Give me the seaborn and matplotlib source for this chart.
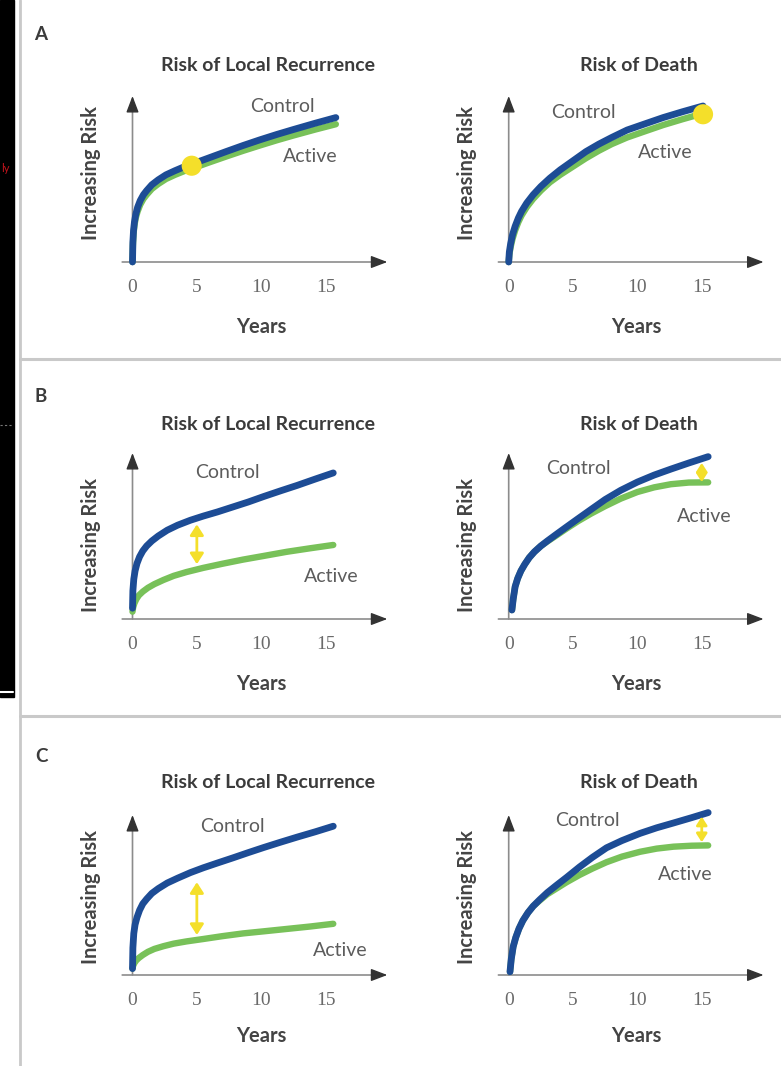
import matplotlib
matplotlib.use("Agg")
import matplotlib.pyplot as plt
import seaborn as sns
from matplotlib.patches import Rectangle
from matplotlib.lines import Line2D

sns.set_theme(style="white")
plt.rcParams["font.family"] = ["Lato", "DejaVu Sans"]

# ---------------- data (years vs. relative risk, 0-100 scale) ----------------
tick_years = [0, 5, 10, 15]
tick_labels = ["0", "5", "10", "15"]

# A: same local recurrence, same death
a_loc_years = [0, 0.03, 0.08, 0.15, 0.25, 0.4, 0.6, 0.85, 1.1, 1.5, 2.0, 2.6,
               3.3, 4.0, 4.8, 6.0, 7.3, 8.6, 9.9, 11.2, 12.5, 14.2, 15.8]
a_loc_control = [0, 12, 19, 24, 28.5, 33, 37, 40.5, 43, 46.5, 49.5, 52.5,
                 55, 57.3, 59.5, 62.9, 66.6, 70.2, 73.6, 76.8, 79.8, 83.6, 87]
a_loc_active = [0, 10, 17, 22, 26.5, 30.5, 34.5, 38, 40.5, 44, 47, 50,
                52.5, 54.7, 56.8, 60.1, 63.6, 67, 70.2, 73.3, 76.2, 79.8, 83]

a_death_years = [0, 0.05, 0.15, 0.3, 0.5, 0.75, 1.0, 1.4, 1.9, 2.5, 3.2, 4.0,
                 5.0, 6.0, 7.0, 8.0, 9.2, 10.5, 12.0, 13.5, 15.1]
a_death_control = [0, 6, 11, 16.5, 21.5, 26.5, 30.5, 35.5, 40.5, 45.5, 50.5, 55.5,
                   61, 66.5, 71, 75, 79.5, 83, 87, 90.5, 94]
a_death_active = [0, 4.5, 9, 14, 19, 24, 28, 33, 38, 43, 48, 52.5,
                  57.5, 62.5, 67, 71, 75, 78.5, 82.5, 86, 89.5]

a_loc_dot = (4.6, 58)
a_death_dot = (15.1, 89)

# B: local benefit, small survival benefit
b_loc_ctrl_years = [0, 0.03, 0.1, 0.2, 0.35, 0.55, 0.8, 1.1, 1.5, 2.0, 2.7, 3.5,
                    4.5, 5.5, 6.6, 7.8, 9.0, 10.2, 11.5, 12.8, 14.2, 15.6]
b_loc_control = [6.5, 17, 24, 29, 33.5, 37.5, 41, 44, 47, 50, 53.5, 56.5,
                 59.5, 62, 64.5, 67.5, 70.5, 73.8, 77.2, 80.5, 84.3, 88]
b_loc_act_years = [0, 0.05, 0.15, 0.3, 0.5, 0.8, 1.2, 1.7, 2.4, 3.2, 4.2, 5.5,
                   7.0, 8.6, 10.2, 12.0, 13.8, 15.6]
b_loc_active = [4.4, 7, 9.5, 12, 14.3, 16.5, 18.8, 21, 23.5, 26, 28.3, 30.8,
                33.3, 35.8, 38, 40.5, 42.6, 44.6]

b_death_years = [0.25, 0.35, 0.5, 0.7, 0.95, 1.25, 1.6, 2.0, 2.5, 3.0, 3.7, 4.5,
                 5.4, 6.4, 7.5, 8.7, 10.0, 11.3, 12.6, 14.0, 15.5]
b_death_control = [5.4, 12, 19.5, 24.5, 29, 33, 37, 40.5, 44, 47, 51, 55.5,
                   60.5, 66, 72, 77.5, 82.5, 86.7, 90.3, 94, 97.8]
b_death_active = [5.4, 12, 19.5, 24.5, 29, 33, 37, 40.5, 44, 46.7, 50.3, 54.5,
                  59, 63.5, 68, 72.5, 76.5, 79.3, 81.2, 82.2, 82.3]

b_loc_gap = (5, 57, 33)
b_death_gap = (15, 94, 82.5)

# C: large local benefit, larger survival benefit
c_loc_ctrl_years = [0, 0.03, 0.1, 0.2, 0.35, 0.55, 0.8, 1.1, 1.5, 2.0, 2.7, 3.5,
                    4.5, 5.5, 6.6, 7.8, 9.0, 10.2, 11.5, 12.8, 14.2, 15.6]
c_loc_control = [4, 17, 26, 31.5, 36, 40.5, 44.5, 47.5, 51, 54, 57.5, 60.5,
                 64, 67, 70, 73.2, 76.5, 79.7, 83, 86.2, 89.5, 93]
c_loc_act_years = [0, 0.05, 0.15, 0.3, 0.5, 0.8, 1.2, 1.7, 2.4, 3.2, 4.2, 5.5,
                   7.0, 8.6, 10.2, 12.0, 13.8, 15.6]
c_loc_active = [4, 5.8, 7.5, 9.2, 10.7, 12.5, 14.5, 16.3, 18, 19.6, 21, 22.5,
                24.3, 26, 27.3, 28.8, 30.3, 32]

c_death_years = [0.1, 0.2, 0.35, 0.55, 0.8, 1.1, 1.5, 1.9, 2.4, 3.0, 3.7, 4.5,
                 5.5, 6.5, 7.6, 8.8, 10.2, 11.5, 12.8, 14.2, 15.5]
c_death_control = [2, 10, 17.7, 23.5, 29, 34, 39, 43, 47, 51.5, 56, 61,
                   67.5, 73.5, 79.5, 84, 88.5, 92, 95, 98.3, 101.5]
c_death_active = [2, 10, 17.7, 23.5, 29, 34, 39, 43, 46.5, 50.5, 54, 58,
                  62.5, 66.5, 70.5, 74, 77, 79, 80.2, 80.8, 81]

c_loc_gap = (5, 58, 25)
c_death_gap = (15, 99, 83)

# ---------------- styling ----------------
BLUE = "#1d4c95"
GREEN = "#78c159"
YELLOW = "#f4df2a"
AXIS_LINE = "#8c8c8c"
AXIS_HEAD = "#333333"
DARK = "#3b3b3b"
MID = "#5c5c5c"

W, H = 781, 1066
fig = plt.figure(figsize=(W / 100, H / 100), dpi=100)
fig.patch.set_facecolor("white")

XMIN, XMAX = -0.8, 19.8
PX_PER_YEAR = 12.87


def ftext(x, y, s, **kw):
    fig.text(x / W, 1 - y / H, s, ha="center", va="center", **kw)


def make_axes(x0_px, top_px, bottom_px):
    left = x0_px + XMIN * PX_PER_YEAR
    right = x0_px + XMAX * PX_PER_YEAR
    ax = fig.add_axes([left / W, 1 - bottom_px / H, (right - left) / W,
                       (bottom_px - top_px) / H])
    ax.set_xlim(XMIN, XMAX)
    ax.set_ylim(0, 100)
    ax.set_facecolor("none")
    for sp in ax.spines.values():
        sp.set_visible(False)
    ax.set_yticks([])
    ax.set_xticks(tick_years)
    ax.set_xticklabels(tick_labels)
    ax.tick_params(axis="x", direction="inout", length=6, width=1,
                   color="#8a8a8a", pad=9, labelsize=14, labelcolor="#6a6a6a")
    for lbl in ax.get_xticklabels():
        lbl.set_fontfamily(["Liberation Serif", "DejaVu Serif"])

    xt = ax.get_xaxis_transform()
    line = dict(arrowstyle="-", color=AXIS_LINE, lw=1.2, shrinkA=0, shrinkB=0)
    head = dict(arrowstyle="-|>,head_length=1.0,head_width=0.38", color=AXIS_HEAD,
                lw=1.0, shrinkA=0, shrinkB=0, mutation_scale=10)
    # time axis
    ax.annotate("", xy=(0.985, 0), xytext=(0, 0), xycoords="axes fraction",
                textcoords="axes fraction", arrowprops=line, annotation_clip=False)
    ax.annotate("", xy=(1, 0), xytext=(0.95, 0), xycoords="axes fraction",
                textcoords="axes fraction", arrowprops=head, annotation_clip=False)
    # risk axis
    ax.annotate("", xy=(0, 0.98), xytext=(0, 0), xycoords=xt, textcoords=xt,
                arrowprops=line, annotation_clip=False)
    ax.annotate("", xy=(0, 1), xytext=(0, 0.92), xycoords=xt, textcoords=xt,
                arrowprops=head, annotation_clip=False)
    return ax


def curves(ax, xa, ya, xc, yc):
    sns.lineplot(x=xa, y=ya, ax=ax, color=GREEN, lw=4.6, estimator=None,
                 sort=False, solid_capstyle="round", solid_joinstyle="round",
                 clip_on=False, zorder=3)
    sns.lineplot(x=xc, y=yc, ax=ax, color=BLUE, lw=4.9, estimator=None,
                 sort=False, solid_capstyle="round", solid_joinstyle="round",
                 clip_on=False, zorder=4)
    ax.set_xlabel("")
    ax.set_ylabel("")


def gap_arrow(ax, gap, scale):
    x, top, bot = gap
    ax.annotate("", xy=(x, bot), xytext=(x, top),
                arrowprops=dict(arrowstyle="<|-|>,head_length=0.7,head_width=0.45",
                                color=YELLOW, lw=2, shrinkA=0, shrinkB=0,
                                mutation_scale=scale),
                annotation_clip=False, zorder=5)


# panel geometry: (y of arrow tip, y of time axis)
rows = [(96, 262), (453, 619), (815, 975)]
LEFT_X0, RIGHT_X0 = 132.5, 508.7

axes = {}
for r, (top, bottom) in enumerate(rows):
    axes[(r, 0)] = make_axes(LEFT_X0, top, bottom)
    axes[(r, 1)] = make_axes(RIGHT_X0, top, bottom)

# Row A
curves(axes[(0, 0)], a_loc_years, a_loc_active, a_loc_years, a_loc_control)
curves(axes[(0, 1)], a_death_years, a_death_active, a_death_years, a_death_control)
sns.scatterplot(x=[a_loc_dot[0]], y=[a_loc_dot[1]], ax=axes[(0, 0)], s=210,
                color=YELLOW, edgecolor="none", zorder=6, clip_on=False)
sns.scatterplot(x=[a_death_dot[0]], y=[a_death_dot[1]], ax=axes[(0, 1)], s=210,
                color=YELLOW, edgecolor="none", zorder=6, clip_on=False)

# Row B
curves(axes[(1, 0)], b_loc_act_years, b_loc_active, b_loc_ctrl_years, b_loc_control)
curves(axes[(1, 1)], b_death_years, b_death_active, b_death_years, b_death_control)
gap_arrow(axes[(1, 0)], b_loc_gap, 9)
gap_arrow(axes[(1, 1)], b_death_gap, 7)

# Row C
curves(axes[(2, 0)], c_loc_act_years, c_loc_active, c_loc_ctrl_years, c_loc_control)
curves(axes[(2, 1)], c_death_years, c_death_active, c_death_years, c_death_control)
gap_arrow(axes[(2, 0)], c_loc_gap, 9)
gap_arrow(axes[(2, 1)], c_death_gap, 7)

for ax in axes.values():
    ax.set_xlabel("")
    ax.set_ylabel("")

# ---------------- text ----------------
title_kw = dict(fontsize=14, fontweight="bold", color=DARK)
label_kw = dict(fontsize=14.5, fontweight="bold", color="#444444")
curve_kw = dict(fontsize=14, color=MID)

panel_letters = ["A", "B", "C"]
letter_y = [35, 397, 756]
title_y = [65, 424, 782]
ylab_y = [173, 545, 897]
years_y = [327, 684, 1036]

for i in range(3):
    ftext(41, letter_y[i], panel_letters[i], fontsize=13.5, fontweight="bold",
          color=DARK)
    ftext(268, title_y[i], "Risk of Local Recurrence", **title_kw)
    ftext(639, title_y[i], "Risk of Death", **title_kw)
    ftext(91, ylab_y[i], "Increasing Risk", rotation=90, **label_kw)
    ftext(467, ylab_y[i], "Increasing Risk", rotation=90, **label_kw)
    ftext(261, years_y[i], "Years", **label_kw)
    ftext(636, years_y[i], "Years", **label_kw)

# curve names
ftext(282, 106, "Control", **curve_kw)
ftext(310, 157, "Active", **curve_kw)
ftext(583, 112, "Control", **curve_kw)
ftext(665, 152, "Active", **curve_kw)

ftext(227, 472, "Control", **curve_kw)
ftext(331, 577, "Active", **curve_kw)
ftext(578, 469, "Control", **curve_kw)
ftext(704, 517, "Active", **curve_kw)

ftext(232, 827, "Control", **curve_kw)
ftext(340, 950, "Active", **curve_kw)
ftext(587, 821, "Control", **curve_kw)
ftext(685, 874, "Active", **curve_kw)

# ---------------- frame ----------------
fig.add_artist(Rectangle((0, 1 - 697 / H), 14 / W, 697 / H,
                         transform=fig.transFigure, color="black", zorder=0))
fig.add_artist(Line2D([0, 13 / W], [1 - 692 / H, 1 - 692 / H], color="white", lw=1.5))
fig.add_artist(Line2D([0, 12 / W], [1 - 425 / H, 1 - 425 / H], color="#777777",
                      lw=0.8, ls=(0, (2, 2))))
fig.text(1 / W, 1 - 168 / H, "ly", color="#c0141c", fontsize=8, ha="left",
         va="center")
fig.add_artist(Line2D([20 / W, 20 / W], [0, 1], color="#c9c9c9", lw=2))
for yy in (359, 716):
    fig.add_artist(Line2D([20 / W, 1], [1 - yy / H, 1 - yy / H], color="#c9c9c9", lw=2.2))

fig.savefig("out.png", dpi=100, facecolor="white")
